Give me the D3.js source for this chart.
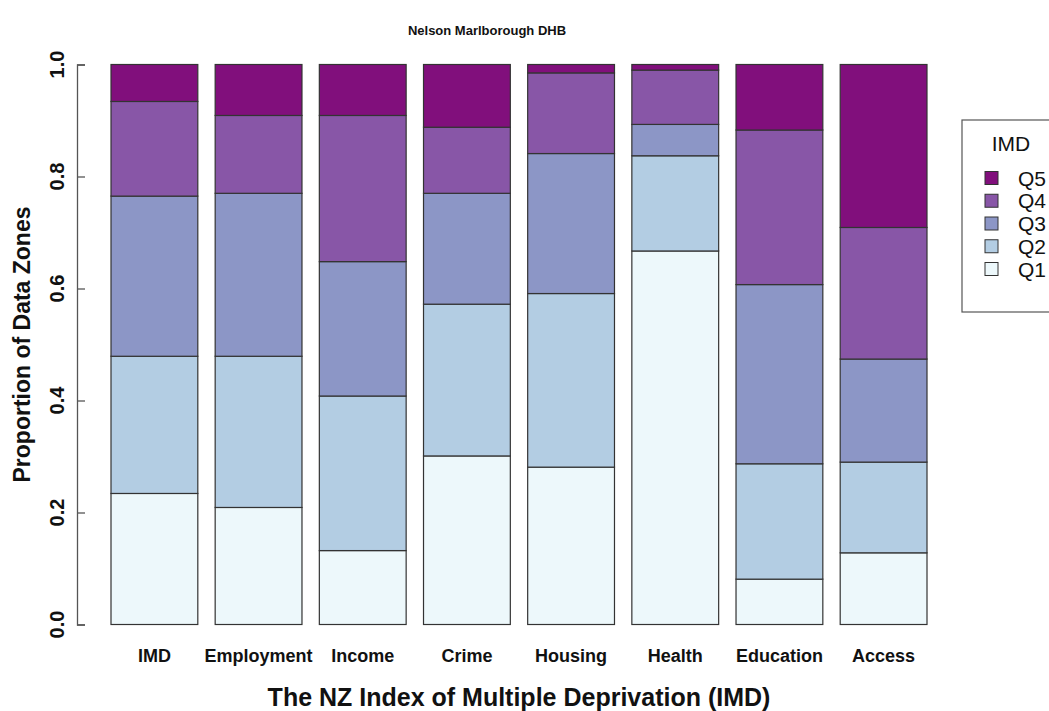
<!DOCTYPE html>
<html>
<head>
<meta charset="utf-8">
<script src="https://cdn.jsdelivr.net/npm/d3@7"></script>
<style>
  html, body { margin: 0; padding: 0; background: #fff; }
  svg { display: block; font-family: "Liberation Sans", Arial, Helvetica, sans-serif; }
</style>
</head>
<body>
<svg id="chart" width="1049" height="711"></svg>
<script>
const categories = ["IMD", "Employment", "Income", "Crime", "Housing", "Health", "Education", "Access"];
const quintiles = ["Q1", "Q2", "Q3", "Q4", "Q5"];
const q1 = [0.234, 0.209, 0.132, 0.301, 0.281, 0.667, 0.081, 0.128];
const q2 = [0.245, 0.270, 0.276, 0.271, 0.310, 0.170, 0.206, 0.162];
const q3 = [0.286, 0.291, 0.240, 0.198, 0.250, 0.056, 0.320, 0.184];
const q4 = [0.169, 0.139, 0.261, 0.118, 0.144, 0.097, 0.276, 0.235];
const q5 = [0.066, 0.091, 0.091, 0.112, 0.015, 0.010, 0.117, 0.291];
const colors = ["#edf8fb", "#b3cde3", "#8c96c6", "#8856a7", "#810f7c"];
const yTicks = [0, 0.2, 0.4, 0.6, 0.8, 1.0];
const title = "Nelson Marlborough DHB";
const xTitle = "The NZ Index of Multiple Deprivation (IMD)";
const yTitle = "Proportion of Data Zones";
const legendTitle = "IMD";

const series = [q1, q2, q3, q4, q5];
const rows = categories.map((c, i) => {
  const r = { cat: c };
  quintiles.forEach((q, j) => r[q] = series[j][i]);
  return r;
});

const svg = d3.select("#chart");
const x = d3.scaleBand().domain(categories).range([111, 927]).paddingInner(1/6).paddingOuter(0);
const y = d3.scaleLinear().domain([0, 1]).range([624.5, 64.5]);

const stack = d3.stack().keys(quintiles)(rows);
const color = d3.scaleOrdinal().domain(quintiles).range(colors);

svg.append("g").selectAll("g").data(stack).join("g")
  .attr("fill", d => color(d.key))
  .selectAll("rect").data(d => d).join("rect")
  .attr("x", d => x(d.data.cat))
  .attr("width", x.bandwidth())
  .attr("y", d => y(d[1]))
  .attr("height", d => y(d[0]) - y(d[1]))
  .attr("stroke", "#333")
  .attr("stroke-width", 1.2);

// y axis (ticks pointing inward, as in reference)
const yAxis = svg.append("g").attr("transform", "translate(77,0)")
  .call(d3.axisRight(y).tickValues(yTicks).tickSize(8).tickFormat(d3.format(".1f")));
yAxis.select(".domain").attr("stroke", "#555").attr("stroke-width", 1.3);
yAxis.selectAll(".tick line").attr("stroke", "#555").attr("stroke-width", 1.3);
yAxis.selectAll(".tick text").remove();
svg.append("g").selectAll("text").data(yTicks).join("text")
  .attr("transform", d => `translate(64,${y(d)}) rotate(-90)`)
  .attr("text-anchor", "middle")
  .attr("font-weight", "bold")
  .attr("font-size", 20)
  .attr("fill", "#111")
  .text(d => d3.format(".1f")(d));

// x labels
svg.append("g").selectAll("text").data(categories).join("text")
  .attr("x", d => x(d) + x.bandwidth() / 2)
  .attr("y", 661.5)
  .attr("text-anchor", "middle")
  .attr("font-weight", "bold")
  .attr("font-size", 18)
  .attr("fill", "#111")
  .text(d => d);

// titles
svg.append("text").attr("x", 487).attr("y", 35).attr("text-anchor", "middle")
  .attr("font-weight", "bold").attr("font-size", 13).attr("fill", "#111").text(title);
svg.append("text").attr("x", 519).attr("y", 706).attr("text-anchor", "middle")
  .attr("font-weight", "bold").attr("font-size", 25).attr("fill", "#111").text(xTitle);
svg.append("text").attr("transform", `translate(30,${y(0.5)}) rotate(-90)`)
  .attr("text-anchor", "middle").attr("font-weight", "bold").attr("font-size", 23)
  .attr("fill", "#111").text(yTitle);

// legend
const lg = svg.append("g");
lg.append("rect").attr("x", 962).attr("y", 120).attr("width", 120).attr("height", 192)
  .attr("fill", "none").attr("stroke", "#555").attr("stroke-width", 1.2);
lg.append("text").attr("x", 1011).attr("y", 151).attr("text-anchor", "middle")
  .attr("font-size", 21).attr("fill", "#111").text(legendTitle);
const legendKeys = quintiles.slice().reverse();
const ly = d3.scalePoint().domain(legendKeys).range([178, 269]);
lg.selectAll("rect.sw").data(legendKeys).join("rect").attr("class", "sw")
  .attr("x", 985).attr("y", d => ly(d) - 6.5).attr("width", 13).attr("height", 13)
  .attr("fill", d => color(d)).attr("stroke", "#333").attr("stroke-width", 1);
lg.selectAll("text.lab").data(legendKeys).join("text").attr("class", "lab")
  .attr("x", 1018).attr("y", d => ly(d) + 7.5)
  .attr("font-size", 21).attr("fill", "#111").text(d => d);
</script>
</body>
</html>
